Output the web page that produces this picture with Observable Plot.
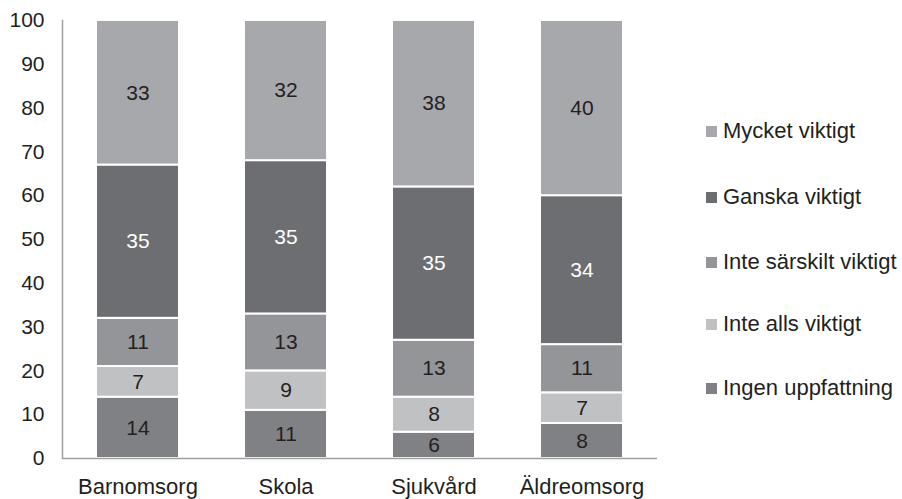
<!DOCTYPE html>
<html><head><meta charset="utf-8">
<script src="https://cdn.jsdelivr.net/npm/d3@7"></script>
<script src="https://cdn.jsdelivr.net/npm/@observablehq/plot@0.6"></script>
<style>
body{margin:0;background:#fff;font-family:"Liberation Sans",Arial,sans-serif;}
#wrap{position:relative;width:902px;height:499px;}
#legend{position:absolute;left:706px;top:0;}
.li{position:absolute;left:0;white-space:nowrap;font-size:22px;color:#231f20;display:flex;align-items:center;}
.sw{width:11px;height:11px;margin-right:6px;display:inline-block;}
</style></head>
<body><div id="wrap"><div id="chart"></div><div id="legend"></div></div>
<script>
const categories = ["Barnomsorg","Skola","Sjukvård","Äldreomsorg"];
const series = ["Ingen uppfattning","Inte alls viktigt","Inte särskilt viktigt","Ganska viktigt","Mycket viktigt"];
const colors = ["#808184","#c0c1c3","#939598","#6d6e71","#a7a8ab"];
const ingenUppfattning = [14,11,6,8];
const inteAlls = [7,9,8,7];
const inteSarskilt = [11,13,13,11];
const ganska = [35,35,35,34];
const mycket = [33,32,38,40];
const yTicks = [0,10,20,30,40,50,60,70,80,90,100];
const legendTops = [131,197,262,324,388];

const values = [ingenUppfattning, inteAlls, inteSarskilt, ganska, mycket];
const data = [];
series.forEach((s,i)=>categories.forEach((c,j)=>data.push({cat:c, series:s, value:values[i][j]})));

const chart = Plot.plot({
  width:902, height:499,
  marginLeft:62, marginRight:245, marginTop:20, marginBottom:41,
  style:{fontFamily:"Liberation Sans, Arial, sans-serif", fontSize:"21px", color:"#231f20", background:"#fff"},
  x:{domain:categories, paddingInner:0.44, paddingOuter:0.22, label:null},
  y:{domain:[0,100], label:null},
  color:{domain:series, range:colors},
  marks:[
    Plot.barY(data, {x:"cat", y:"value", fill:"series", stroke:"#fff", strokeWidth:2, order:series}),
    Plot.text(data, Plot.stackY({x:"cat", y:"value", z:"series", order:series, text:d=>String(d.value), fill:d=>d.series==="Ganska viktigt"?"#fff":"#231f20", fontSize:21})),
    Plot.frame({anchor:"left", stroke:"#a0a0a0", strokeWidth:1.5}),
    Plot.ruleY([0], {stroke:"#a0a0a0", strokeWidth:1.5}),
    Plot.axisY({ticks:yTicks, tickSize:0, tickPadding:18, fontSize:21, label:null}),
    Plot.axisX({tickSize:0, tickPadding:20, fontSize:22, label:null})
  ]
});
document.getElementById("chart").appendChild(chart);

const leg = document.getElementById("legend");
[...series].reverse().forEach((s,k)=>{
  const idx = series.indexOf(s);
  const d = document.createElement("div");
  d.className="li";
  d.style.top=(legendTops[k]-13)+"px";
  d.innerHTML=`<span class="sw" style="background:${colors[idx]}"></span>${s}`;
  leg.appendChild(d);
});
</script></body></html>
